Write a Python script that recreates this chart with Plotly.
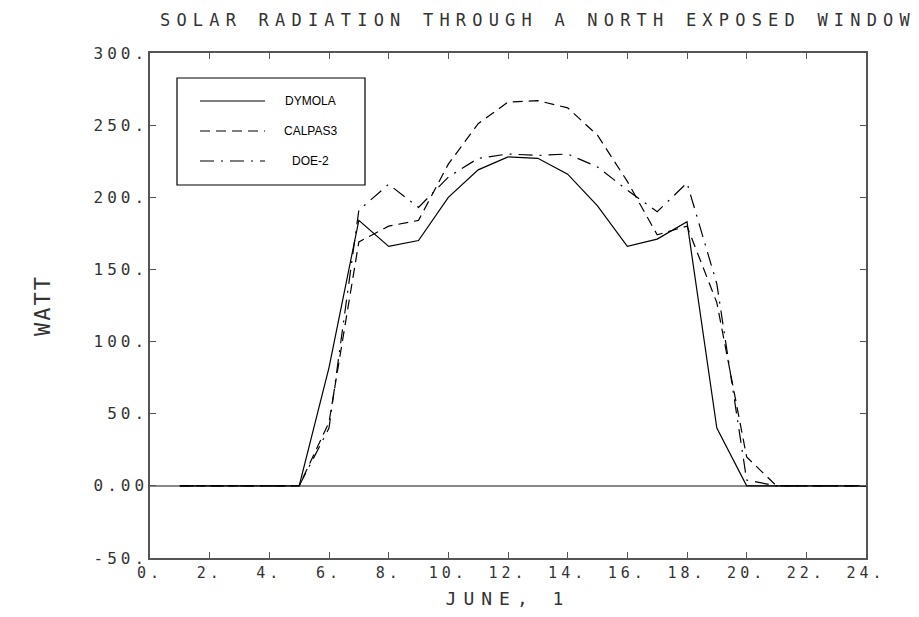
import plotly.graph_objects as go

hours = list(range(1, 25))
dymola = [0, 0, 0, 0, 0, 82, 184, 166, 170, 200, 219, 228, 227, 216, 194, 166, 171, 183, 40, 0, 0, 0, 0, 0]
calpas3 = [0, 0, 0, 0, 0, 44, 169, 180, 184, 223, 251, 266, 267, 262, 243, 211, 174, 180, 127, 20, 0, 0, 0, 0]
doe2 = [0, 0, 0, 0, 0, 40, 191, 209, 193, 214, 227, 230, 229, 230, 221, 205, 190, 210, 140, 4, 0, 0, 0, 0]

series_names = ["DYMOLA", "CALPAS3", "DOE-2"]
series_dash = ["solid", "10px,6px", "14px,7px,2px,7px"]

x_tickvals = list(range(0, 25, 2))
x_ticktext = ["0.", "2.", "4.", "6.", "8.", "10.", "12.", "14.", "16.", "18.", "20.", "22.", "24."]
y_tickvals = [-50, 0, 50, 100, 150, 200, 250, 300]
y_ticktext = ["-50.", "0.00", "50.", "100.", "150.", "200.", "250.", "300."]

title_text = "SOLAR RADIATION THROUGH A NORTH EXPOSED WINDOW"
x_title = "JUNE, 1"
y_title = "WATT"

mono = "DejaVu Sans Mono"
txt = "#333333"

fig = go.Figure()
for name, vals, dash in zip(series_names, [dymola, calpas3, doe2], series_dash):
    fig.add_trace(go.Scatter(x=hours, y=vals, mode="lines", name=name,
                             line=dict(color="black", width=1.2, dash=dash),
                             showlegend=False))

W, H = 919, 617
OFF = 8  # page body margin
ml, mr, mt, mb = 142, 61, 45, 67

fig.update_layout(
    width=W, height=H,
    margin=dict(l=ml, r=mr, t=mt, b=mb),
    paper_bgcolor="white", plot_bgcolor="white",
    font=dict(family=mono, color=txt, size=15),
    title=dict(text=title_text, x=530 / W, xanchor="center", xref="container",
               y=1 - 12 / H, yanchor="middle", yref="container",
               font=dict(family=mono, size=17, color=txt)),
    xaxis=dict(range=[0, 24], tickvals=x_tickvals, ticktext=x_ticktext,
               ticks="inside", ticklen=6, tickcolor="#555", tickwidth=1,
               showline=True, linecolor="#555", linewidth=1.5, mirror="ticks",
               showgrid=False, zeroline=False,
               tickfont=dict(family=mono, size=15, color=txt),
               title=dict(text=x_title, font=dict(family=mono, size=18, color=txt), standoff=12)),
    yaxis=dict(range=[-50, 300], tickvals=y_tickvals, ticktext=y_ticktext,
               ticks="inside", ticklen=6, tickcolor="#555", tickwidth=1,
               showline=True, linecolor="#555", linewidth=1.5, mirror="ticks",
               showgrid=False, zeroline=True, zerolinecolor="#888", zerolinewidth=1.5,
               ticklabelstandoff=-3,
               tickfont=dict(family=mono, size=16, color=txt),
               title=dict(text=y_title, font=dict(family=mono, size=22, color=txt), standoff=53)),
)

# Legend box drawn as layout decoration (paper coordinates from screen pixels)
pw, ph = W - ml - mr, H - mt - mb
def px(xs):
    return (xs - OFF - ml) / pw
def py(ys):
    return 1 - (ys - OFF - mt) / ph

fig.add_shape(type="rect", xref="paper", yref="paper",
              x0=px(177), x1=px(365), y0=py(185), y1=py(78),
              line=dict(color="black", width=1.2), fillcolor="white", layer="above")
row_y = [101, 131, 161]
for name, dash, yy in zip(series_names, series_dash, row_y):
    fig.add_shape(type="line", xref="paper", yref="paper",
                  x0=px(200), x1=px(265), y0=py(yy), y1=py(yy),
                  line=dict(color="black", width=1.2, dash=dash), layer="above")
    fig.add_annotation(xref="paper", yref="paper", x=px(310), y=py(yy),
                       text=name, showarrow=False, xanchor="center", yanchor="middle",
                       font=dict(family="Liberation Sans", size=12, color="black"))

post = """
var gd = document.getElementById('{plot_id}');
function ls(sel, v) { gd.querySelectorAll(sel).forEach(function (e) { e.style.letterSpacing = v; }); }
function apply() {
  ls('.gtitle', '6.2px');
  ls('.xtitle', '7px');
  ls('.ytitle', '2px');
  ls('.xtick text', '4px');
  ls('.ytick text', '4px');
}
apply();
setTimeout(apply, 0);
"""

fig.write_html("out.html", post_script=post)
